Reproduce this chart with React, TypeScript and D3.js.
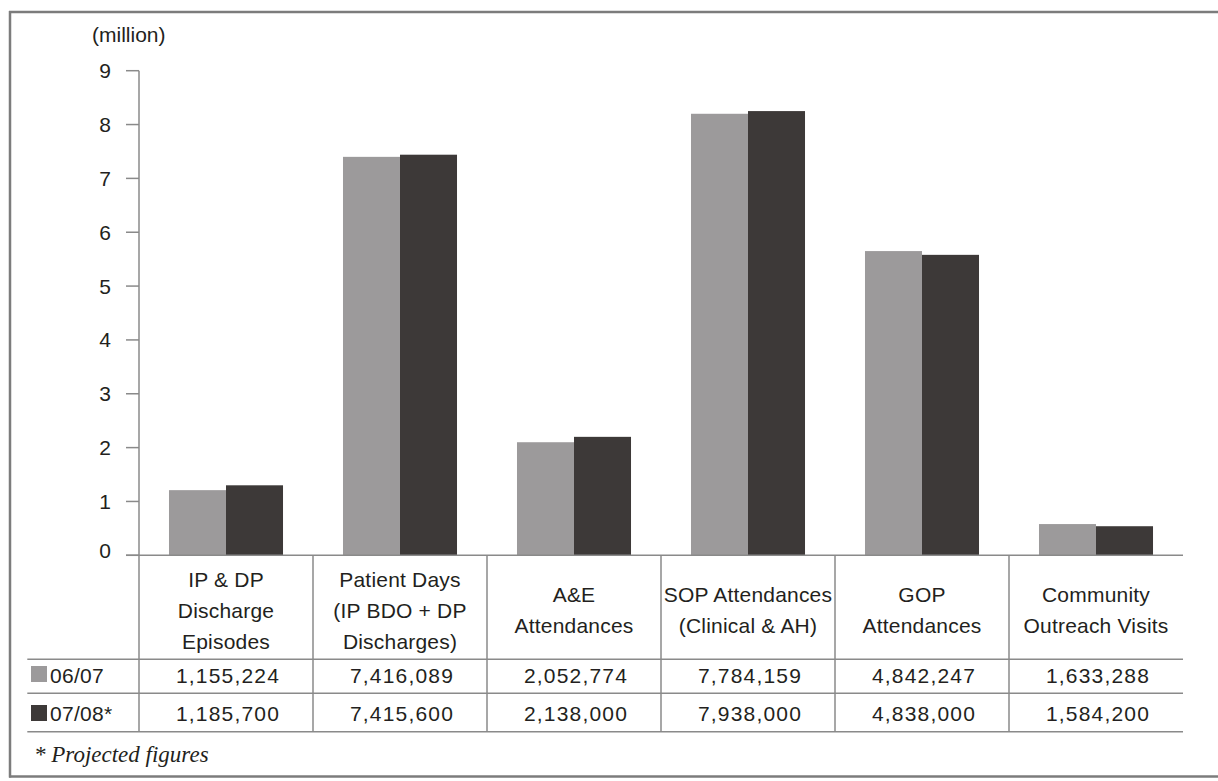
import React from "react";
import * as d3 from "d3";

const categories: string[] = ["ipdp", "patient", "ae", "sop", "gop", "community"];
const categoryLines: string[][] = [
  ["IP & DP", "Discharge", "Episodes"],
  ["Patient Days", "(IP BDO + DP", "Discharges)"],
  ["A&E", "Attendances"],
  ["SOP Attendances", "(Clinical & AH)"],
  ["GOP", "Attendances"],
  ["Community", "Outreach Visits"],
];
const seriesNames: string[] = ["06/07", "07/08*"];
// bar heights as drawn (million)
const bars0607: number[] = [1.21, 7.4, 2.1, 8.2, 5.65, 0.58];
const bars0708: number[] = [1.3, 7.44, 2.2, 8.25, 5.58, 0.54];
// table figures
const table0607: number[] = [1155224, 7416089, 2052774, 7784159, 4842247, 1633288];
const table0708: number[] = [1185700, 7415600, 2138000, 7938000, 4838000, 1584200];
const yTicks: number[] = [0, 1, 2, 3, 4, 5, 6, 7, 8, 9];
const colors: string[] = ["#9c9a9b", "#3d3938"];

const FONT = "'Liberation Sans', Arial, Helvetica, sans-serif";
const TEXT = "#231f20";
const LINE = "#8a8a8a";

export default function App() {
  const W = 1218;
  const H = 781;
  const axisX = 139;
  const right = 1183;
  const y0 = 555.3;
  const yTop = 70.7;
  const headerBottom = 659.3;
  const row1Bottom = 693.3;
  const row2Bottom = 731.7;
  const tableLeft = 27.3;

  const x = d3.scaleBand<string>().domain(categories).range([axisX, right]).padding(0);
  const xs = d3
    .scaleBand<string>()
    .domain(seriesNames)
    .range([0, x.bandwidth()])
    .paddingInner(0)
    .paddingOuter(0.526);
  const y = d3.scaleLinear().domain([0, 9]).range([y0, yTop]);
  const fmt = d3.format(",");

  const seriesBars = [bars0607, bars0708];
  const tableRows = [table0607, table0708];
  const rowBaselines = [682.7, 720.7];
  const swatchTops = [666, 705];

  const lineH = 31;
  const headerCenter = 617.5;

  return (
    <svg
      width={W}
      height={H}
      style={{ position: "absolute", left: 0, top: 0, display: "block", background: "#fff" }}
    >
      {/* frame */}
      <g stroke="#7c7c7c" strokeWidth={2.5} fill="none">
        <line x1={9} x2={W} y1={12} y2={12} />
        <line x1={10} x2={10} y1={11} y2={777.5} />
        <line x1={9} x2={W} y1={776.5} y2={776.5} />
      </g>

      {/* unit label */}
      <text x={92} y={41.5} fontFamily={FONT} fontSize={21} fill={TEXT}>
        (million)
      </text>

      {/* bars */}
      {categories.map((c, i) => (
        <g key={c} transform={`translate(${x(c)},0)`}>
          {seriesNames.map((s, j) => (
            <rect
              key={s}
              x={xs(s)}
              y={y(seriesBars[j][i])}
              width={xs.bandwidth()}
              height={y0 - y(seriesBars[j][i])}
              fill={colors[j]}
            />
          ))}
        </g>
      ))}

      {/* y axis */}
      <g stroke={LINE} strokeWidth={1.5}>
        <line x1={axisX} x2={axisX} y1={yTop} y2={row2Bottom} />
        {yTicks.map((t) => (
          <line key={t} x1={126} x2={axisX} y1={y(t)} y2={y(t)} />
        ))}
      </g>
      {yTicks.map((t) => (
        <text
          key={t}
          x={111}
          y={t === 0 ? y(t) - 5 : y(t)}
          dy="0.36em"
          textAnchor="end"
          fontFamily={FONT}
          fontSize={21}
          fill={TEXT}
        >
          {t}
        </text>
      ))}

      {/* table lines */}
      <g stroke={LINE} strokeWidth={1.5}>
        <line x1={126} x2={right} y1={y0} y2={y0} />
        <line x1={tableLeft} x2={right} y1={headerBottom} y2={headerBottom} />
        <line x1={tableLeft} x2={right} y1={row1Bottom} y2={row1Bottom} />
        <line x1={tableLeft} x2={right} y1={row2Bottom} y2={row2Bottom} />
        {categories.slice(1).map((c) => (
          <line key={c} x1={x(c)} x2={x(c)} y1={y0} y2={row2Bottom} />
        ))}
      </g>

      {/* header */}
      {categories.map((c, i) => {
        const lines = categoryLines[i];
        const cx = (x(c) as number) + x.bandwidth() / 2;
        return (
          <text
            key={c}
            textAnchor="middle"
            fontFamily={FONT}
            fontSize={21}
            fill={TEXT}
            letterSpacing={0.2}
          >
            {lines.map((l, k) => (
              <tspan key={k} x={cx} y={headerCenter + (k - (lines.length - 1) / 2) * lineH}>
                {l}
              </tspan>
            ))}
          </text>
        );
      })}

      {/* rows */}
      {seriesNames.map((s, j) => (
        <g key={s}>
          <rect x={31} y={swatchTops[j]} width={16} height={16} fill={colors[j]} />
          <text x={50} y={rowBaselines[j]} fontFamily={FONT} fontSize={21} fill={TEXT} letterSpacing={0.3}>
            {s}
          </text>
          {categories.map((c, i) => (
            <text
              key={c}
              x={(x(c) as number) + x.bandwidth() / 2 + 2}
              y={rowBaselines[j]}
              textAnchor="middle"
              fontFamily={FONT}
              fontSize={21}
              fill={TEXT}
              letterSpacing={1.2}
            >
              {fmt(tableRows[j][i])}
            </text>
          ))}
        </g>
      ))}

      {/* footnote */}
      <text
        x={34}
        y={762}
        fontFamily="'Liberation Serif', 'Times New Roman', serif"
        fontStyle="italic"
        fontSize={23}
        fill={TEXT}
      >
        * Projected figures
      </text>
    </svg>
  );
}
